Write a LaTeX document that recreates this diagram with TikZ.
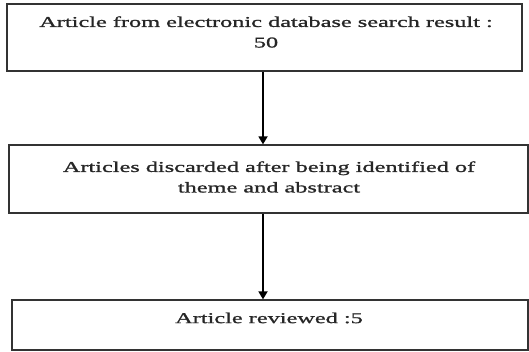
\documentclass[tikz,border=0pt]{standalone}
\usepackage{fontspec}
\setmainfont{Liberation Serif}[FakeStretch=1.62,FakeBold=1.2]
\usetikzlibrary{arrows.meta}
\begin{document}
\begin{tikzpicture}[x=1pt,y=1pt,
  box/.style={draw=black!80,line width=1.3pt,minimum width=#1,inner sep=0pt},
  txt/.style={font=\fontsize{15}{20.5}\selectfont,align=center,inner sep=0pt,text=black!85},
  conn/.style={line width=1.7pt,-{Triangle[width=9pt,length=8pt]}}]
\useasboundingbox (0,0) rectangle (529,-352);
\node[box=515pt,minimum height=67pt] (b1) at (264.5,-37.5) {};
\node[box=519pt,minimum height=68pt] (b2) at (268.5,-179) {};
\node[box=516pt,minimum height=50pt] (b3) at (270,-325) {};
\node[txt] (t1) at (266,-32) {Article from electronic database search result :\\50};
\node[txt] (t2) at (269,-177) {Articles discarded after being identified of\\theme and abstract};
\node[txt] (t3) at (269,-318) {Article reviewed :5};
\draw[conn] (b1.south -| 263,0) -- (b2.north -| 263,0);
\draw[conn] (b2.south -| 263,0) -- (b3.north -| 263,0);
\end{tikzpicture}
\end{document}
